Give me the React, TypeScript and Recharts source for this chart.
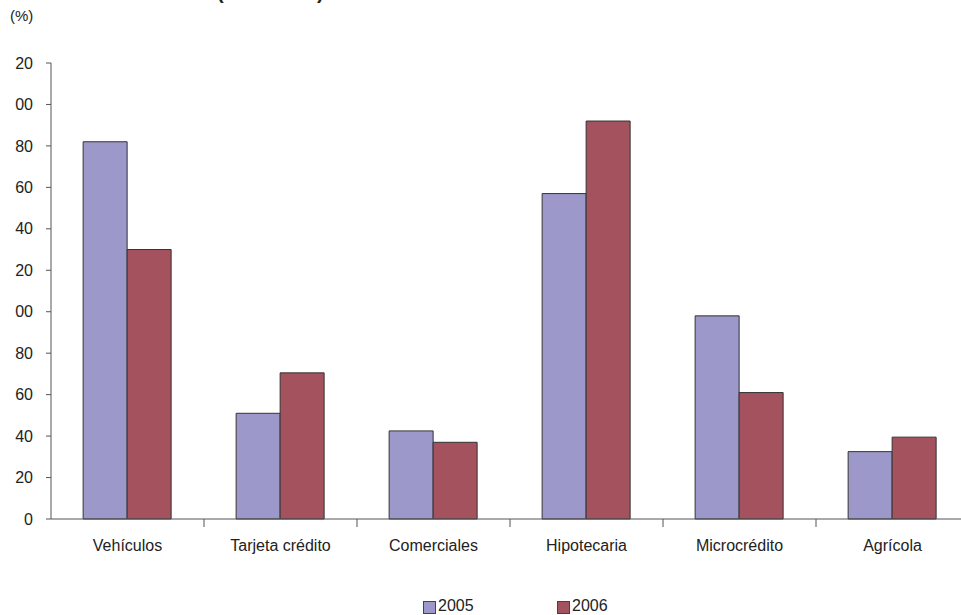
import { BarChart, Bar, XAxis, YAxis, Legend } from "recharts";

const categories = [
  "Vehículos",
  "Tarjeta crédito",
  "Comerciales",
  "Hipotecaria",
  "Microcrédito",
  "Agrícola",
];
const values2005 = [182, 51, 42.5, 157, 98, 32.5];
const values2006 = [130, 70.5, 37, 192, 61, 39.5];
const yTicks = [0, 20, 40, 60, 80, 100, 120, 140, 160, 180, 200, 220];

const data = categories.map((name, i) => ({
  name,
  y2005: values2005[i],
  y2006: values2006[i],
}));

const SERIES = [
  { key: "y2005", label: "2005", color: "#9c98c9" },
  { key: "y2006", label: "2006", color: "#a4525e" },
];

const FONT = "'Liberation Sans', Arial, sans-serif";
const TEXT = "#222";
const AXIS = "#555";

// labels are clipped on the left in the source, only last two digits show
const formatY = (v: number) => (v === 0 ? "0" : String(v).slice(-2));

function CategoryTick(props: any) {
  const { x, y, payload, index } = props;
  const half = payload.offset ?? 76.5;
  return (
    <g>
      {index > 0 && (
        <line
          x1={x - half}
          x2={x - half}
          y1={y - 10}
          y2={y - 2}
          stroke={AXIS}
        />
      )}
      <text
        x={x}
        y={y + 22}
        textAnchor="middle"
        fontSize={16}
        fontFamily={FONT}
        fill={TEXT}
      >
        {payload.value}
      </text>
    </g>
  );
}

function LegendContent() {
  return (
    <div style={{ position: "relative", height: 20, fontFamily: FONT }}>
      {SERIES.map((s, i) => (
        <div
          key={s.key}
          style={{
            position: "absolute",
            left: 423 + i * 134,
            top: 2,
            display: "flex",
            alignItems: "flex-end",
            fontSize: 16,
            color: TEXT,
            lineHeight: "17px",
          }}
        >
          <span
            style={{
              display: "inline-block",
              width: 11,
              height: 11,
              background: s.color,
              border: "1px solid #444",
              marginRight: 2,
              marginBottom: 0,
            }}
          />
          {s.label}
        </div>
      ))}
    </div>
  );
}

export default function App() {
  return (
    <div
      style={{
        position: "absolute",
        left: 0,
        top: 0,
        width: 961,
        height: 615,
        overflow: "hidden",
        background: "#fff",
        fontFamily: FONT,
      }}
    >
      <div
        style={{
          position: "absolute",
          top: -19,
          left: 217,
          fontSize: 20,
          fontWeight: "bold",
          color: TEXT,
        }}
      >
        (
      </div>
      <div
        style={{
          position: "absolute",
          top: -19,
          left: 317,
          fontSize: 20,
          fontWeight: "bold",
          color: TEXT,
        }}
      >
        )
      </div>
      <div
        style={{
          position: "absolute",
          top: 7,
          left: 10,
          fontSize: 15,
          color: TEXT,
        }}
      >
        (%)
      </div>
      <BarChart
        width={980}
        height={615}
        data={data}
        margin={{ top: 63, right: 11, bottom: 0, left: 0 }}
        barCategoryGap="21%"
        barGap={0}
      >
        <YAxis
          width={51}
          domain={[0, 220]}
          ticks={yTicks}
          interval={0}
          tickFormatter={formatY}
          tickSize={5}
          tickMargin={13}
          axisLine={{ stroke: AXIS }}
          tickLine={{ stroke: AXIS }}
          tick={{ fontSize: 16, fill: TEXT, fontFamily: FONT }}
        />
        <XAxis
          dataKey="name"
          height={76}
          tickSize={8}
          tickMargin={2}
          tickLine={false}
          axisLine={{ stroke: AXIS }}
          tick={<CategoryTick />}
          interval={0}
        />
        <Legend
          verticalAlign="bottom"
          wrapperStyle={{ left: 0, width: 980, height: 20 }}
          content={<LegendContent />}
        />
        {SERIES.map((s) => (
          <Bar
            key={s.key}
            dataKey={s.key}
            name={s.label}
            fill={s.color}
            stroke="#333"
            strokeWidth={1}
            isAnimationActive={false}
          />
        ))}
      </BarChart>
    </div>
  );
}
